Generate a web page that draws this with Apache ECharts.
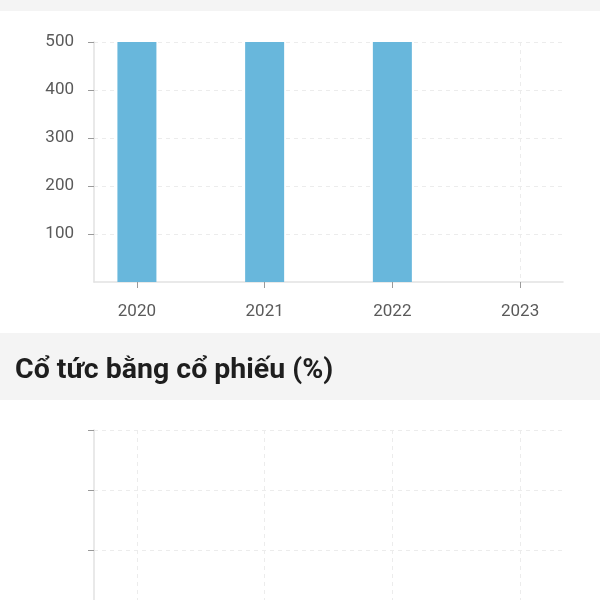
<!DOCTYPE html>
<html>
<head>
<meta charset="utf-8">
<script src="https://cdn.jsdelivr.net/npm/echarts@6/dist/echarts.min.js"></script>
<style>
  html, body { margin: 0; padding: 0; background: #fff; }
  #chart { width: 600px; height: 600px; }
</style>
</head>
<body>
<div id="chart"></div>
<script>
// Years on the horizontal axis
const years = [2020, 2021, 2022, 2023];
// Cash dividend per year (VND)
const cashDividend = [500, 500, 500, null];
// Tick values of the cash-dividend axis
const cashTicks = [100, 200, 300, 400, 500];
// Stock dividend per year (%) – no payouts recorded
const stockDividend = [null, null, null, null];
// Tick values of the stock-dividend axis (top part of the panel)
const stockTicks = [0, 1, 2];
const sectionTitle = 'Cổ tức bằng cổ phiếu (%)';

const FONT = 'Roboto, "Noto Sans", sans-serif';
const AXIS_COLOR = '#e2e2e2';
const TICK_COLOR = '#9a9a9a';
const LABEL_COLOR = '#5a5a5a';
const SPLIT = { show: true, lineStyle: { color: '#ececec', type: [4, 4], width: 1 } };

const xAxisBase = (gridIndex, showParts) => ({
  type: 'value',
  gridIndex,
  min: 2019.664,
  max: 2023.336,
  axisLine: { show: showParts, onZero: false, lineStyle: { color: AXIS_COLOR, width: 1.5 } },
  axisTick: { show: showParts, customValues: years, length: 6, lineStyle: { color: TICK_COLOR } },
  axisLabel: {
    show: showParts, customValues: years, margin: 21,
    color: LABEL_COLOR, fontSize: 17, fontFamily: FONT,
    formatter: v => String(Math.round(v))
  },
  splitLine: SPLIT
});

const chart = echarts.init(document.getElementById('chart'), null, { renderer: 'canvas' });

chart.setOption({
  backgroundColor: '#ffffff',
  animation: false,
  graphic: [
    { type: 'rect', shape: { x: 0, y: 0, width: 600, height: 11 }, style: { fill: '#f4f4f4' }, z: -1 },
    { type: 'rect', shape: { x: 0, y: 333, width: 600, height: 67 }, style: { fill: '#f4f4f4' }, z: -1 },
    {
      type: 'text', left: 15, top: 356,
      style: { text: sectionTitle, fill: '#1e1e1e', font: 'bold 28.5px ' + FONT }
    }
  ],
  grid: [
    { left: 94, top: 42, width: 469, height: 240 },
    { left: 94, top: 430, width: 469, height: 170 }
  ],
  xAxis: [xAxisBase(0, true), xAxisBase(1, false)],
  yAxis: [
    {
      type: 'value', gridIndex: 0, min: 0, max: 500,
      axisLine: { show: true, lineStyle: { color: AXIS_COLOR, width: 1.5 } },
      axisTick: { show: true, customValues: cashTicks, length: 6, lineStyle: { color: TICK_COLOR } },
      axisLabel: { customValues: cashTicks, margin: 20, color: LABEL_COLOR, fontSize: 17, fontFamily: FONT },
      splitLine: SPLIT
    },
    {
      type: 'value', gridIndex: 1, min: 0, max: 2.8333, inverse: true,
      axisLine: { show: true, onZero: false, lineStyle: { color: AXIS_COLOR, width: 1.5 } },
      axisTick: { show: true, customValues: stockTicks, length: 6, lineStyle: { color: TICK_COLOR } },
      axisLabel: { show: false, customValues: stockTicks },
      splitLine: SPLIT
    }
  ],
  series: [
    {
      type: 'bar', xAxisIndex: 0, yAxisIndex: 0,
      barWidth: 39,
      itemStyle: { color: '#68b7dc' },
      data: years.map((y, i) => [y, cashDividend[i]])
    },
    {
      type: 'bar', xAxisIndex: 1, yAxisIndex: 1,
      barWidth: 39,
      itemStyle: { color: '#68b7dc' },
      data: years.map((y, i) => [y, stockDividend[i]])
    }
  ]
});
</script>
</body>
</html>
